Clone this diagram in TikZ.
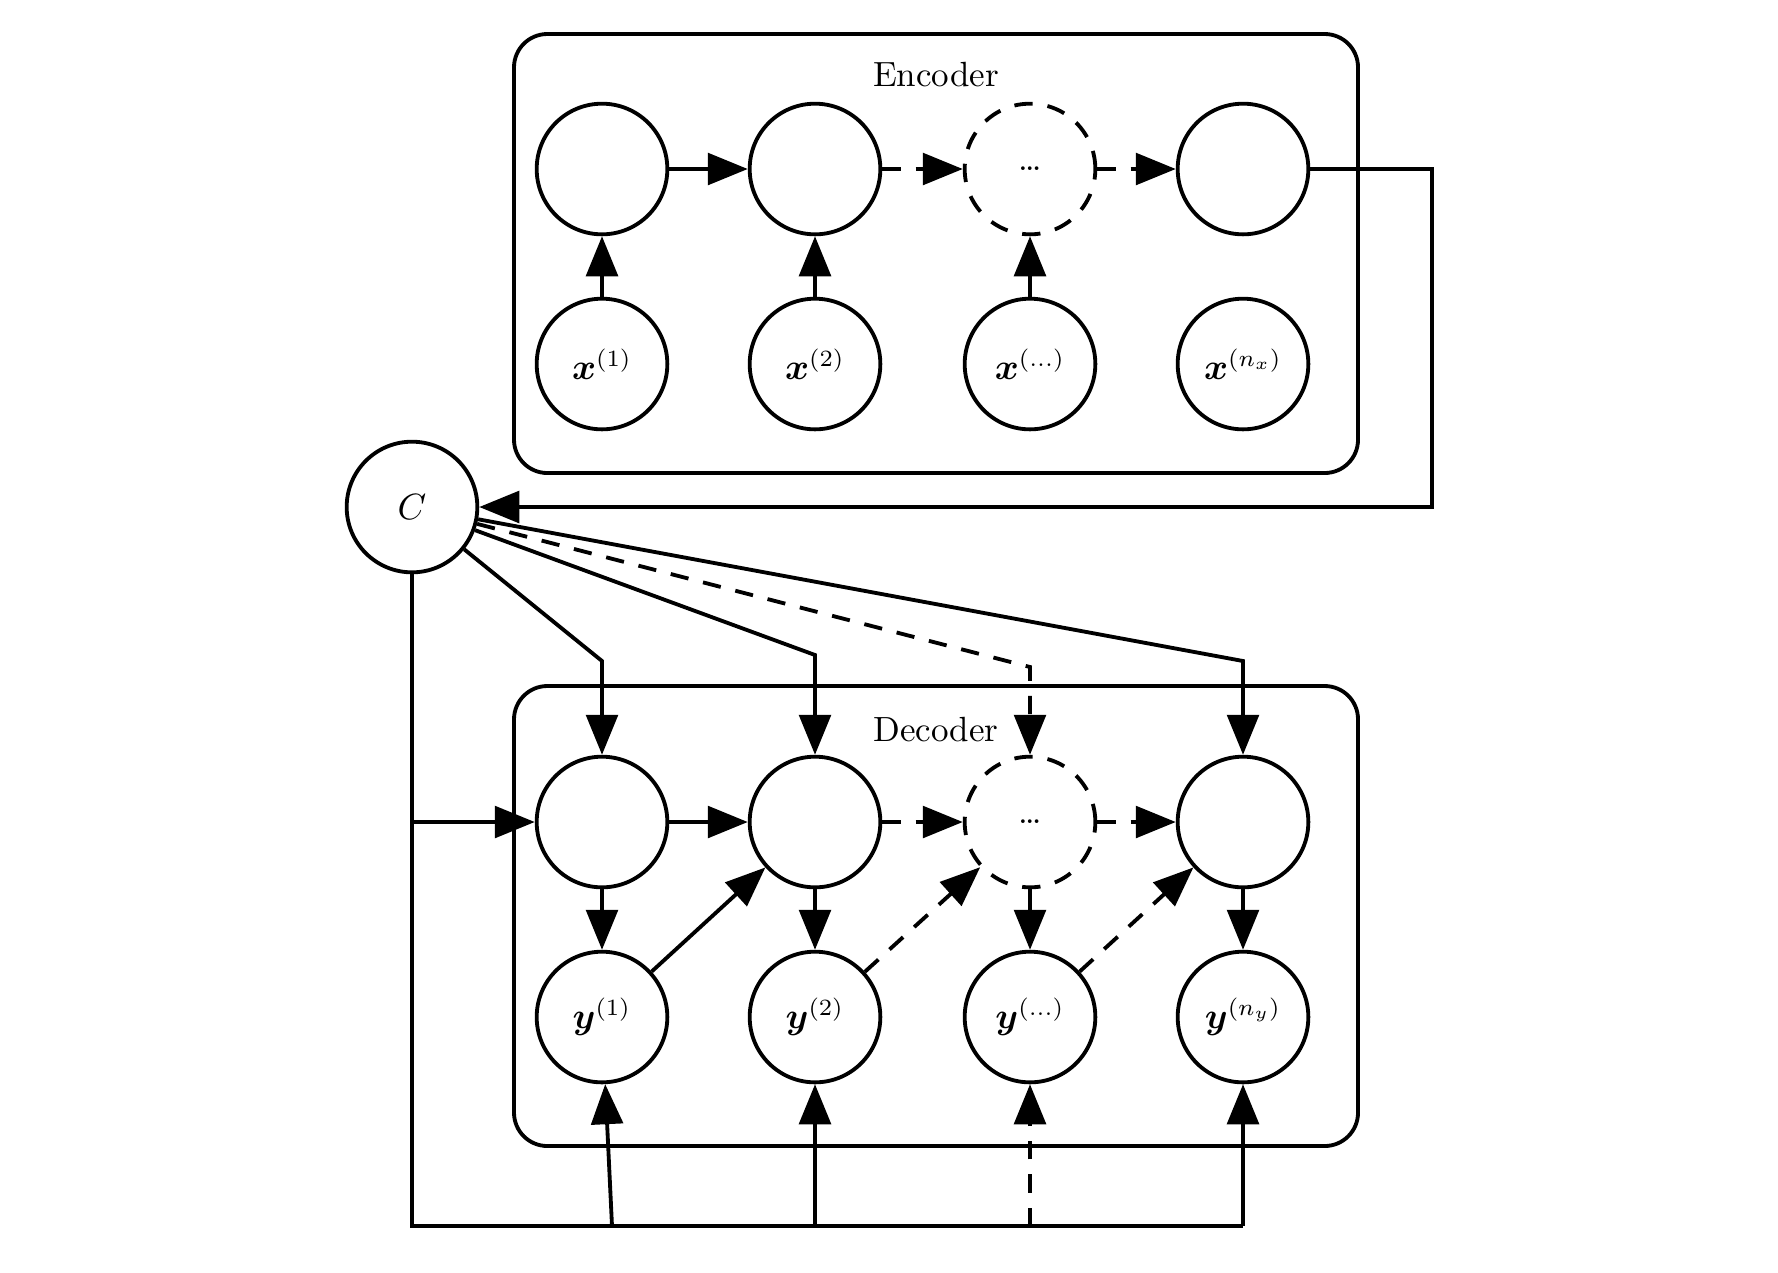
\documentclass[tikz,border=0pt]{standalone}
\usepackage{bm}
\usetikzlibrary{arrows.meta}
\begin{document}
\begin{tikzpicture}[x=0.3pt,y=-0.3pt, line width=1.15pt,
  nd/.style={circle,draw,minimum size=39.2pt,inner sep=0pt},
  dsh/.style={dash pattern=on 5.5pt off 4.5pt},
  dnd/.style={nd,dsh},
  arr/.style={-{Triangle[length=12pt,width=9.5pt]}},
  box/.style={draw,rounded corners=10pt},
  font=\fontsize{10.5}{12}\selectfont]
\useasboundingbox (0,0) rectangle (1778,1272);
% containers
\draw[box] (514,34) rectangle (1358,473);
\draw[box] (514,686) rectangle (1358,1146);
\node (enclabel) at (936,75) {Encoder};
\node (declabel) at (936,730) {Decoder};
% encoder
\node[nd] (e1) at (602,169) {};
\node[nd] (e2) at (815,169) {};
\node[dnd] (e3) at (1030,169) {\ldots};
\node[nd] (e4) at (1243,169) {};
\node[nd] (x1) at (602,364) {$\bm{x}^{(1)}$};
\node[nd] (x2) at (815,364) {$\bm{x}^{(2)}$};
\node[nd] (x3) at (1030,364) {$\bm{x}^{(\dots)}$};
\node[nd] (x4) at (1243,364) {$\bm{x}^{(n_x)}$};
% context
\node[nd] (C) at (412,507) {$C$};
% decoder
\node[nd] (d1) at (602,822) {};
\node[nd] (d2) at (815,822) {};
\node[dnd] (d3) at (1030,822) {\ldots};
\node[nd] (d4) at (1243,822) {};
\node[nd] (y1) at (602,1017) {$\bm{y}^{(1)}$};
\node[nd] (y2) at (815,1017) {$\bm{y}^{(2)}$};
\node[nd] (y3) at (1030,1017) {$\bm{y}^{(\dots)}$};
\node[nd] (y4) at (1243,1017) {$\bm{y}^{(n_y)}$};
% coordinates
\coordinate (r2) at (1432,507);
\coordinate (b1) at (602,661);
\coordinate (b2) at (815,655);
\coordinate (b3) at (1030,667);
\coordinate (b4) at (1243,661);
\coordinate (c1) at (412,822);
\coordinate (g1) at (612,1226);
\coordinate (g2) at (815,1226);
\coordinate (g3) at (1030,1226);
\coordinate (g4) at (1243,1226);
% encoder edges
\draw[arr] (e1) -- (e2);
\draw[arr,dsh] (e2) -- (e3);
\draw[arr,dsh] (e3) -- (e4);
\draw[arr] (x1) -- (e1);
\draw[arr] (x2) -- (e2);
\draw[arr] (x3) -- (e3);
\draw[arr] (e4.east) -| (r2) -- (C.east);
% context to decoder
\draw[arr] (C) -- (b1) -- (d1);
\draw[arr] (C) -- (b2) -- (d2);
\draw[arr,dsh] (C) -- (b3) -- (d3);
\draw[arr] (C) -- (b4) -- (d4);
\draw (C.south) |- (g4);
\draw[arr] (c1) -- (d1);
\draw[arr] (g1) -- (y1);
\draw[arr] (g2) -- (y2);
\draw[arr,dsh] (g3) -- (y3);
\draw[arr] (g4) -- (y4);
% decoder edges
\draw[arr] (d1) -- (d2);
\draw[arr,dsh] (d2) -- (d3);
\draw[arr,dsh] (d3) -- (d4);
\draw[arr] (d1) -- (y1);
\draw[arr] (d2) -- (y2);
\draw[arr] (d3) -- (y3);
\draw[arr] (d4) -- (y4);
\draw[arr] (y1) -- (d2);
\draw[arr,dsh] (y2) -- (d3);
\draw[arr,dsh] (y3) -- (d4);
\end{tikzpicture}
\end{document}
